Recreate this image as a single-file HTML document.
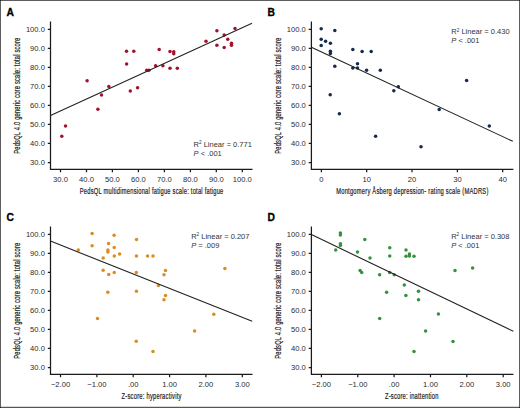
<!DOCTYPE html><html><head><meta charset="utf-8"><style>html,body{margin:0;padding:0;background:#fff;}svg{display:block}</style></head><body>
<svg width="520" height="408" viewBox="0 0 520 408" font-family='"Liberation Sans", sans-serif'>
<rect x="0" y="0" width="520" height="408" fill="#fff"/>
<text x="6.50" y="15.70" font-size="10.30" font-weight="bold" fill="#000" stroke="#000" stroke-width="0.3">A</text>
<path d="M50.50 21.50V169.30H252.50M47.80 29.30H50.50M47.80 48.33H50.50M47.80 67.36H50.50M47.80 86.39H50.50M47.80 105.42H50.50M47.80 124.45H50.50M47.80 143.48H50.50M47.80 162.51H50.50M60.50 169.30V172.30M86.50 169.30V172.30M112.40 169.30V172.30M138.40 169.30V172.30M164.40 169.30V172.30M190.40 169.30V172.30M216.30 169.30V172.30M242.30 169.30V172.30" stroke="#1a1a1a" stroke-width="1.25" fill="none"/>
<text x="44.90" y="31.60" font-size="7.60" text-anchor="end" fill="#2a2a2a">100.0</text>
<text x="44.90" y="50.63" font-size="7.60" text-anchor="end" fill="#2a2a2a">90.0</text>
<text x="44.90" y="69.66" font-size="7.60" text-anchor="end" fill="#2a2a2a">80.0</text>
<text x="44.90" y="88.69" font-size="7.60" text-anchor="end" fill="#2a2a2a">70.0</text>
<text x="44.90" y="107.72" font-size="7.60" text-anchor="end" fill="#2a2a2a">60.0</text>
<text x="44.90" y="126.75" font-size="7.60" text-anchor="end" fill="#2a2a2a">50.0</text>
<text x="44.90" y="145.78" font-size="7.60" text-anchor="end" fill="#2a2a2a">40.0</text>
<text x="44.90" y="164.81" font-size="7.60" text-anchor="end" fill="#2a2a2a">30.0</text>
<text x="60.50" y="181.60" font-size="7.60" text-anchor="middle" fill="#2a2a2a">30.0</text>
<text x="86.50" y="181.60" font-size="7.60" text-anchor="middle" fill="#2a2a2a">40.0</text>
<text x="112.40" y="181.60" font-size="7.60" text-anchor="middle" fill="#2a2a2a">50.0</text>
<text x="138.40" y="181.60" font-size="7.60" text-anchor="middle" fill="#2a2a2a">60.0</text>
<text x="164.40" y="181.60" font-size="7.60" text-anchor="middle" fill="#2a2a2a">70.0</text>
<text x="190.40" y="181.60" font-size="7.60" text-anchor="middle" fill="#2a2a2a">80.0</text>
<text x="216.30" y="181.60" font-size="7.60" text-anchor="middle" fill="#2a2a2a">90.0</text>
<text x="242.30" y="181.60" font-size="7.60" text-anchor="middle" fill="#2a2a2a">100.0</text>
<text transform="translate(19.90 95.70) rotate(-90) scale(0.640 1)" x="0" y="0" font-size="9.00" text-anchor="middle" textLength="181.25" lengthAdjust="spacing" fill="#222" stroke="#222" stroke-width="0.22">PedsQL 4.0 generic core scale: total score</text>
<text transform="translate(79.80 194.20) scale(0.640 1)" x="0" y="0" font-size="9.00" textLength="224.22" lengthAdjust="spacing" fill="#222" stroke="#222" stroke-width="0.22">PedsQL multidimensional fatigue scale: total fatigue</text>
<circle cx="61.80" cy="136.30" r="1.75" fill="#a3122c"/>
<circle cx="65.50" cy="126.10" r="1.75" fill="#a3122c"/>
<circle cx="87.10" cy="80.70" r="1.75" fill="#a3122c"/>
<circle cx="97.90" cy="109.30" r="1.75" fill="#a3122c"/>
<circle cx="101.50" cy="94.90" r="1.75" fill="#a3122c"/>
<circle cx="108.80" cy="86.60" r="1.75" fill="#a3122c"/>
<circle cx="126.50" cy="51.30" r="1.75" fill="#a3122c"/>
<circle cx="133.80" cy="51.30" r="1.75" fill="#a3122c"/>
<circle cx="126.60" cy="64.00" r="1.75" fill="#a3122c"/>
<circle cx="130.30" cy="91.00" r="1.75" fill="#a3122c"/>
<circle cx="137.60" cy="87.80" r="1.75" fill="#a3122c"/>
<circle cx="146.70" cy="70.20" r="1.75" fill="#a3122c"/>
<circle cx="148.90" cy="70.20" r="1.75" fill="#a3122c"/>
<circle cx="155.60" cy="65.80" r="1.75" fill="#a3122c"/>
<circle cx="162.90" cy="65.80" r="1.75" fill="#a3122c"/>
<circle cx="159.20" cy="49.60" r="1.75" fill="#a3122c"/>
<circle cx="170.00" cy="51.50" r="1.75" fill="#a3122c"/>
<circle cx="173.75" cy="51.70" r="1.75" fill="#a3122c"/>
<circle cx="173.75" cy="53.75" r="1.75" fill="#a3122c"/>
<circle cx="170.00" cy="68.30" r="1.75" fill="#a3122c"/>
<circle cx="177.30" cy="68.30" r="1.75" fill="#a3122c"/>
<circle cx="206.00" cy="41.20" r="1.75" fill="#a3122c"/>
<circle cx="216.90" cy="30.75" r="1.75" fill="#a3122c"/>
<circle cx="216.90" cy="45.30" r="1.75" fill="#a3122c"/>
<circle cx="224.20" cy="34.90" r="1.75" fill="#a3122c"/>
<circle cx="227.75" cy="39.25" r="1.75" fill="#a3122c"/>
<circle cx="224.20" cy="47.40" r="1.75" fill="#a3122c"/>
<circle cx="231.50" cy="43.25" r="1.75" fill="#a3122c"/>
<circle cx="231.50" cy="45.20" r="1.75" fill="#a3122c"/>
<circle cx="235.00" cy="28.50" r="1.75" fill="#a3122c"/>
<line x1="50.50" y1="115.50" x2="252.00" y2="23.30" stroke="#222" stroke-width="1.10"/>
<text x="193.60" y="146.70" font-size="7.50" fill="#333">R<tspan font-size="4.65" dy="-2.3">2</tspan><tspan dy="2.3"> Linear = 0.771</tspan></text>
<text x="193.60" y="155.90" font-size="7.50" fill="#333"><tspan font-style="italic">P</tspan> &lt; .001</text>
<text x="267.40" y="15.70" font-size="10.30" font-weight="bold" fill="#000" stroke="#000" stroke-width="0.3">B</text>
<path d="M311.40 21.50V169.30H513.40M308.70 29.30H311.40M308.70 48.33H311.40M308.70 67.36H311.40M308.70 86.39H311.40M308.70 105.42H311.40M308.70 124.45H311.40M308.70 143.48H311.40M308.70 162.51H311.40M321.40 169.30V172.30M366.70 169.30V172.30M412.00 169.30V172.30M457.40 169.30V172.30M502.70 169.30V172.30" stroke="#1a1a1a" stroke-width="1.25" fill="none"/>
<text x="305.80" y="31.60" font-size="7.60" text-anchor="end" fill="#2a2a2a">100.0</text>
<text x="305.80" y="50.63" font-size="7.60" text-anchor="end" fill="#2a2a2a">90.0</text>
<text x="305.80" y="69.66" font-size="7.60" text-anchor="end" fill="#2a2a2a">80.0</text>
<text x="305.80" y="88.69" font-size="7.60" text-anchor="end" fill="#2a2a2a">70.0</text>
<text x="305.80" y="107.72" font-size="7.60" text-anchor="end" fill="#2a2a2a">60.0</text>
<text x="305.80" y="126.75" font-size="7.60" text-anchor="end" fill="#2a2a2a">50.0</text>
<text x="305.80" y="145.78" font-size="7.60" text-anchor="end" fill="#2a2a2a">40.0</text>
<text x="305.80" y="164.81" font-size="7.60" text-anchor="end" fill="#2a2a2a">30.0</text>
<text x="321.40" y="181.60" font-size="7.60" text-anchor="middle" fill="#2a2a2a">0</text>
<text x="366.70" y="181.60" font-size="7.60" text-anchor="middle" fill="#2a2a2a">10</text>
<text x="412.00" y="181.60" font-size="7.60" text-anchor="middle" fill="#2a2a2a">20</text>
<text x="457.40" y="181.60" font-size="7.60" text-anchor="middle" fill="#2a2a2a">30</text>
<text x="502.70" y="181.60" font-size="7.60" text-anchor="middle" fill="#2a2a2a">40</text>
<text transform="translate(280.80 95.70) rotate(-90) scale(0.640 1)" x="0" y="0" font-size="9.00" text-anchor="middle" textLength="181.25" lengthAdjust="spacing" fill="#222" stroke="#222" stroke-width="0.22">PedsQL 4.0 generic core scale: total score</text>
<text transform="translate(336.20 194.20) scale(0.640 1)" x="0" y="0" font-size="9.00" textLength="237.66" lengthAdjust="spacing" fill="#222" stroke="#222" stroke-width="0.22">Montgomery Åsberg depression- rating scale (MADRS)</text>
<circle cx="321.20" cy="28.70" r="1.75" fill="#132a4c"/>
<circle cx="334.80" cy="30.60" r="1.75" fill="#132a4c"/>
<circle cx="321.20" cy="39.20" r="1.75" fill="#132a4c"/>
<circle cx="325.60" cy="41.30" r="1.75" fill="#132a4c"/>
<circle cx="330.40" cy="43.30" r="1.75" fill="#132a4c"/>
<circle cx="321.20" cy="45.40" r="1.75" fill="#132a4c"/>
<circle cx="330.40" cy="51.30" r="1.75" fill="#132a4c"/>
<circle cx="330.40" cy="53.50" r="1.75" fill="#132a4c"/>
<circle cx="352.80" cy="49.60" r="1.75" fill="#132a4c"/>
<circle cx="362.10" cy="51.40" r="1.75" fill="#132a4c"/>
<circle cx="371.20" cy="51.40" r="1.75" fill="#132a4c"/>
<circle cx="334.80" cy="66.20" r="1.75" fill="#132a4c"/>
<circle cx="352.80" cy="67.90" r="1.75" fill="#132a4c"/>
<circle cx="357.50" cy="63.80" r="1.75" fill="#132a4c"/>
<circle cx="357.50" cy="67.90" r="1.75" fill="#132a4c"/>
<circle cx="366.60" cy="70.20" r="1.75" fill="#132a4c"/>
<circle cx="380.30" cy="70.20" r="1.75" fill="#132a4c"/>
<circle cx="393.80" cy="90.80" r="1.75" fill="#132a4c"/>
<circle cx="398.30" cy="86.80" r="1.75" fill="#132a4c"/>
<circle cx="330.20" cy="94.70" r="1.75" fill="#132a4c"/>
<circle cx="339.40" cy="113.70" r="1.75" fill="#132a4c"/>
<circle cx="375.60" cy="136.30" r="1.75" fill="#132a4c"/>
<circle cx="421.00" cy="146.80" r="1.75" fill="#132a4c"/>
<circle cx="439.20" cy="109.40" r="1.75" fill="#132a4c"/>
<circle cx="489.30" cy="126.10" r="1.75" fill="#132a4c"/>
<circle cx="466.60" cy="80.40" r="1.75" fill="#132a4c"/>
<line x1="311.40" y1="47.20" x2="512.80" y2="141.30" stroke="#222" stroke-width="1.10"/>
<text x="451.30" y="33.80" font-size="7.50" fill="#333">R<tspan font-size="4.65" dy="-2.3">2</tspan><tspan dy="2.3"> Linear = 0.430</tspan></text>
<text x="451.30" y="43.00" font-size="7.50" fill="#333"><tspan font-style="italic">P</tspan> &lt; .001</text>
<text x="6.50" y="220.70" font-size="10.30" font-weight="bold" fill="#000" stroke="#000" stroke-width="0.3">C</text>
<path d="M50.50 226.50V374.30H252.50M47.80 234.30H50.50M47.80 253.33H50.50M47.80 272.36H50.50M47.80 291.39H50.50M47.80 310.42H50.50M47.80 329.45H50.50M47.80 348.48H50.50M47.80 367.51H50.50M60.50 374.30V377.30M96.90 374.30V377.30M133.20 374.30V377.30M169.60 374.30V377.30M205.90 374.30V377.30M242.30 374.30V377.30" stroke="#1a1a1a" stroke-width="1.25" fill="none"/>
<text x="44.90" y="236.60" font-size="7.60" text-anchor="end" fill="#2a2a2a">100.0</text>
<text x="44.90" y="255.63" font-size="7.60" text-anchor="end" fill="#2a2a2a">90.0</text>
<text x="44.90" y="274.66" font-size="7.60" text-anchor="end" fill="#2a2a2a">80.0</text>
<text x="44.90" y="293.69" font-size="7.60" text-anchor="end" fill="#2a2a2a">70.0</text>
<text x="44.90" y="312.72" font-size="7.60" text-anchor="end" fill="#2a2a2a">60.0</text>
<text x="44.90" y="331.75" font-size="7.60" text-anchor="end" fill="#2a2a2a">50.0</text>
<text x="44.90" y="350.78" font-size="7.60" text-anchor="end" fill="#2a2a2a">40.0</text>
<text x="44.90" y="369.81" font-size="7.60" text-anchor="end" fill="#2a2a2a">30.0</text>
<text x="60.50" y="386.60" font-size="7.60" text-anchor="middle" fill="#2a2a2a">−2.00</text>
<text x="96.90" y="386.60" font-size="7.60" text-anchor="middle" fill="#2a2a2a">−1.00</text>
<text x="133.20" y="386.60" font-size="7.60" text-anchor="middle" fill="#2a2a2a">.00</text>
<text x="169.60" y="386.60" font-size="7.60" text-anchor="middle" fill="#2a2a2a">1.00</text>
<text x="205.90" y="386.60" font-size="7.60" text-anchor="middle" fill="#2a2a2a">2.00</text>
<text x="242.30" y="386.60" font-size="7.60" text-anchor="middle" fill="#2a2a2a">3.00</text>
<text transform="translate(19.90 300.70) rotate(-90) scale(0.640 1)" x="0" y="0" font-size="9.00" text-anchor="middle" textLength="181.25" lengthAdjust="spacing" fill="#222" stroke="#222" stroke-width="0.22">PedsQL 4.0 generic core scale: total score</text>
<text transform="translate(121.50 399.20) scale(0.640 1)" x="0" y="0" font-size="9.00" textLength="93.75" lengthAdjust="spacing" fill="#222" stroke="#222" stroke-width="0.22">Z-score: hyperactivity</text>
<circle cx="92.10" cy="233.40" r="1.75" fill="#de8b1f"/>
<circle cx="114.10" cy="235.30" r="1.75" fill="#de8b1f"/>
<circle cx="136.50" cy="239.40" r="1.75" fill="#de8b1f"/>
<circle cx="92.10" cy="245.75" r="1.75" fill="#de8b1f"/>
<circle cx="108.60" cy="243.60" r="1.75" fill="#de8b1f"/>
<circle cx="114.25" cy="247.60" r="1.75" fill="#de8b1f"/>
<circle cx="107.90" cy="250.10" r="1.75" fill="#de8b1f"/>
<circle cx="107.90" cy="251.90" r="1.75" fill="#de8b1f"/>
<circle cx="78.30" cy="250.00" r="1.75" fill="#de8b1f"/>
<circle cx="119.60" cy="253.95" r="1.75" fill="#de8b1f"/>
<circle cx="114.25" cy="256.10" r="1.75" fill="#de8b1f"/>
<circle cx="103.20" cy="257.90" r="1.75" fill="#de8b1f"/>
<circle cx="136.45" cy="256.10" r="1.75" fill="#de8b1f"/>
<circle cx="147.60" cy="256.10" r="1.75" fill="#de8b1f"/>
<circle cx="153.00" cy="256.10" r="1.75" fill="#de8b1f"/>
<circle cx="103.15" cy="270.30" r="1.75" fill="#de8b1f"/>
<circle cx="108.75" cy="274.40" r="1.75" fill="#de8b1f"/>
<circle cx="114.25" cy="272.60" r="1.75" fill="#de8b1f"/>
<circle cx="136.35" cy="272.40" r="1.75" fill="#de8b1f"/>
<circle cx="165.50" cy="270.50" r="1.75" fill="#de8b1f"/>
<circle cx="164.00" cy="274.70" r="1.75" fill="#de8b1f"/>
<circle cx="158.40" cy="285.40" r="1.75" fill="#de8b1f"/>
<circle cx="224.90" cy="268.60" r="1.75" fill="#de8b1f"/>
<circle cx="107.80" cy="292.20" r="1.75" fill="#de8b1f"/>
<circle cx="136.45" cy="291.20" r="1.75" fill="#de8b1f"/>
<circle cx="165.50" cy="295.50" r="1.75" fill="#de8b1f"/>
<circle cx="164.00" cy="299.70" r="1.75" fill="#de8b1f"/>
<circle cx="213.80" cy="314.20" r="1.75" fill="#de8b1f"/>
<circle cx="194.60" cy="331.00" r="1.75" fill="#de8b1f"/>
<circle cx="97.50" cy="318.40" r="1.75" fill="#de8b1f"/>
<circle cx="136.20" cy="341.20" r="1.75" fill="#de8b1f"/>
<circle cx="153.00" cy="351.40" r="1.75" fill="#de8b1f"/>
<line x1="50.50" y1="241.10" x2="252.20" y2="321.30" stroke="#222" stroke-width="1.10"/>
<text x="191.20" y="238.50" font-size="7.50" fill="#333">R<tspan font-size="4.65" dy="-2.3">2</tspan><tspan dy="2.3"> Linear = 0.207</tspan></text>
<text x="191.20" y="247.70" font-size="7.50" fill="#333"><tspan font-style="italic">P</tspan> = .009</text>
<text x="267.40" y="220.70" font-size="10.30" font-weight="bold" fill="#000" stroke="#000" stroke-width="0.3">D</text>
<path d="M311.40 226.50V374.30H513.40M308.70 234.30H311.40M308.70 253.33H311.40M308.70 272.36H311.40M308.70 291.39H311.40M308.70 310.42H311.40M308.70 329.45H311.40M308.70 348.48H311.40M308.70 367.51H311.40M321.40 374.30V377.30M357.80 374.30V377.30M394.10 374.30V377.30M430.50 374.30V377.30M466.80 374.30V377.30M503.20 374.30V377.30" stroke="#1a1a1a" stroke-width="1.25" fill="none"/>
<text x="305.80" y="236.60" font-size="7.60" text-anchor="end" fill="#2a2a2a">100.0</text>
<text x="305.80" y="255.63" font-size="7.60" text-anchor="end" fill="#2a2a2a">90.0</text>
<text x="305.80" y="274.66" font-size="7.60" text-anchor="end" fill="#2a2a2a">80.0</text>
<text x="305.80" y="293.69" font-size="7.60" text-anchor="end" fill="#2a2a2a">70.0</text>
<text x="305.80" y="312.72" font-size="7.60" text-anchor="end" fill="#2a2a2a">60.0</text>
<text x="305.80" y="331.75" font-size="7.60" text-anchor="end" fill="#2a2a2a">50.0</text>
<text x="305.80" y="350.78" font-size="7.60" text-anchor="end" fill="#2a2a2a">40.0</text>
<text x="305.80" y="369.81" font-size="7.60" text-anchor="end" fill="#2a2a2a">30.0</text>
<text x="321.40" y="386.60" font-size="7.60" text-anchor="middle" fill="#2a2a2a">−2.00</text>
<text x="357.80" y="386.60" font-size="7.60" text-anchor="middle" fill="#2a2a2a">−1.00</text>
<text x="394.10" y="386.60" font-size="7.60" text-anchor="middle" fill="#2a2a2a">.00</text>
<text x="430.50" y="386.60" font-size="7.60" text-anchor="middle" fill="#2a2a2a">1.00</text>
<text x="466.80" y="386.60" font-size="7.60" text-anchor="middle" fill="#2a2a2a">2.00</text>
<text x="503.20" y="386.60" font-size="7.60" text-anchor="middle" fill="#2a2a2a">3.00</text>
<text transform="translate(280.80 300.70) rotate(-90) scale(0.640 1)" x="0" y="0" font-size="9.00" text-anchor="middle" textLength="181.25" lengthAdjust="spacing" fill="#222" stroke="#222" stroke-width="0.22">PedsQL 4.0 generic core scale: total score</text>
<text transform="translate(384.90 399.20) scale(0.640 1)" x="0" y="0" font-size="9.00" textLength="83.75" lengthAdjust="spacing" fill="#222" stroke="#222" stroke-width="0.22">Z-score: inattention</text>
<circle cx="340.40" cy="233.10" r="1.75" fill="#34923c"/>
<circle cx="340.40" cy="235.10" r="1.75" fill="#34923c"/>
<circle cx="340.40" cy="243.80" r="1.75" fill="#34923c"/>
<circle cx="340.40" cy="245.60" r="1.75" fill="#34923c"/>
<circle cx="364.80" cy="239.40" r="1.75" fill="#34923c"/>
<circle cx="335.70" cy="249.90" r="1.75" fill="#34923c"/>
<circle cx="357.50" cy="251.90" r="1.75" fill="#34923c"/>
<circle cx="370.00" cy="258.10" r="1.75" fill="#34923c"/>
<circle cx="389.75" cy="247.80" r="1.75" fill="#34923c"/>
<circle cx="389.75" cy="256.10" r="1.75" fill="#34923c"/>
<circle cx="406.00" cy="249.90" r="1.75" fill="#34923c"/>
<circle cx="406.00" cy="256.20" r="1.75" fill="#34923c"/>
<circle cx="409.40" cy="254.10" r="1.75" fill="#34923c"/>
<circle cx="409.40" cy="255.90" r="1.75" fill="#34923c"/>
<circle cx="414.00" cy="256.20" r="1.75" fill="#34923c"/>
<circle cx="360.10" cy="270.40" r="1.75" fill="#34923c"/>
<circle cx="361.70" cy="272.60" r="1.75" fill="#34923c"/>
<circle cx="379.60" cy="274.70" r="1.75" fill="#34923c"/>
<circle cx="389.70" cy="272.40" r="1.75" fill="#34923c"/>
<circle cx="394.20" cy="274.70" r="1.75" fill="#34923c"/>
<circle cx="404.30" cy="285.10" r="1.75" fill="#34923c"/>
<circle cx="386.60" cy="292.30" r="1.75" fill="#34923c"/>
<circle cx="405.90" cy="295.50" r="1.75" fill="#34923c"/>
<circle cx="455.00" cy="270.60" r="1.75" fill="#34923c"/>
<circle cx="472.60" cy="268.00" r="1.75" fill="#34923c"/>
<circle cx="418.50" cy="291.20" r="1.75" fill="#34923c"/>
<circle cx="418.50" cy="299.70" r="1.75" fill="#34923c"/>
<circle cx="438.40" cy="314.00" r="1.75" fill="#34923c"/>
<circle cx="425.60" cy="331.00" r="1.75" fill="#34923c"/>
<circle cx="453.00" cy="341.40" r="1.75" fill="#34923c"/>
<circle cx="414.00" cy="351.60" r="1.75" fill="#34923c"/>
<circle cx="379.70" cy="318.40" r="1.75" fill="#34923c"/>
<line x1="311.40" y1="234.60" x2="513.30" y2="331.30" stroke="#222" stroke-width="1.10"/>
<text x="451.20" y="238.50" font-size="7.50" fill="#333">R<tspan font-size="4.65" dy="-2.3">2</tspan><tspan dy="2.3"> Linear = 0.308</tspan></text>
<text x="451.20" y="247.70" font-size="7.50" fill="#333"><tspan font-style="italic">P</tspan> &lt; .001</text>
<rect x="0" y="0" width="520" height="1" fill="#5e5e5e"/><rect x="0" y="0" width="1" height="408" fill="#5e5e5e"/><rect x="519" y="0" width="1" height="408" fill="#5e5e5e"/><rect x="0" y="407" width="520" height="1" fill="#555"/><rect x="1" y="406" width="518" height="1" fill="#d8d8d8"/>
<rect x="0" y="0" width="1" height="1" fill="#222"/><rect x="519" y="0" width="1" height="1" fill="#222"/><rect x="0" y="407" width="1" height="1" fill="#222"/><rect x="519" y="407" width="1" height="1" fill="#222"/>
</svg></body></html>
